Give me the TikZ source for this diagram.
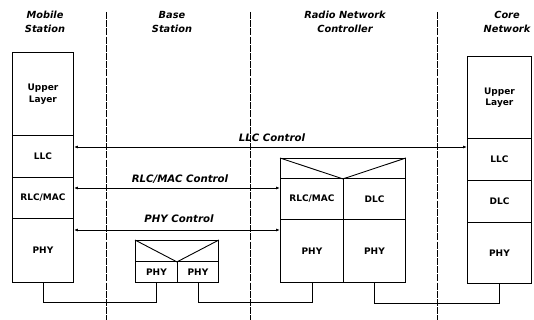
\documentclass[tikz,border=0pt]{standalone}
\usepackage{fontspec}
\setmainfont{DejaVu Sans}
\usetikzlibrary{arrows.meta}
\begin{document}
\begin{tikzpicture}[x=1pt,y=-1pt,
  layer/.style={draw, line width=0.9pt, anchor=north west, inner sep=0pt, font=\bfseries\fontsize{9}{11.5}\selectfont, align=center},
  title/.style={font=\bfseries\itshape\fontsize{9.8}{14}\selectfont, align=center},
  lbl/.style={font=\bfseries\itshape\fontsize{10.2}{12}\selectfont},
  sep/.style={line width=0.6pt, dash pattern=on 7pt off 1.2pt},
  ctl/.style={line width=0.9pt, {Latex[length=4pt,width=3pt]}-{Latex[length=4pt,width=3pt]}},
  wire/.style={line width=0.9pt}]
\useasboundingbox (0,0) rectangle (534,320);
% column separators
\draw[sep] (106,12) -- (106,320);
\draw[sep] (250,12) -- (250,320);
\draw[sep] (437,12) -- (437,320);
% titles
\node[title] (tms) at (45,22) {Mobile\\Station};
\node[title] (tbs) at (172,22) {Base\\Station};
\node[title] (trnc) at (345,22) {Radio Network\\Controller};
\node[title] (tcn) at (507,22) {Core\\Network};
% mobile station stack
\node[layer, minimum width=61pt, minimum height=83pt] (msup) at (12,52) {Upper\\Layer};
\node[layer, minimum width=61pt, minimum height=42pt] (msllc) at (12,135) {LLC};
\node[layer, minimum width=61pt, minimum height=41pt] (msrlc) at (12,177) {RLC/MAC};
\node[layer, minimum width=61pt, minimum height=64pt] (msphy) at (12,218) {PHY};
% core network stack
\node[layer, minimum width=64pt, minimum height=82pt] (cnup) at (467,56) {Upper\\Layer};
\node[layer, minimum width=64pt, minimum height=42pt] (cnllc) at (467,138) {LLC};
\node[layer, minimum width=64pt, minimum height=42pt] (cndlc) at (467,180) {DLC};
\node[layer, minimum width=64pt, minimum height=61pt] (cnphy) at (467,222) {PHY};
% RNC
\node[layer, minimum width=125pt, minimum height=20pt] (rnctop) at (280,158) {};
\draw[line width=0.9pt] (rnctop.north west) -- (rnctop.south) -- (rnctop.north east);
\node[layer, minimum width=63pt, minimum height=41pt] (rncrlc) at (280,178) {RLC/MAC};
\node[layer, minimum width=62pt, minimum height=41pt] (rncdlc) at (343,178) {DLC};
\node[layer, minimum width=63pt, minimum height=63pt] (rncphya) at (280,219) {PHY};
\node[layer, minimum width=62pt, minimum height=63pt] (rncphyb) at (343,219) {PHY};
% base station
\node[layer, minimum width=83pt, minimum height=21pt] (bstop) at (135,240) {};
\draw[line width=0.9pt] (bstop.north west) -- (bstop.south) -- (bstop.north east);
\node[layer, minimum width=42pt, minimum height=21pt] (bsphya) at (135,261) {PHY};
\node[layer, minimum width=41pt, minimum height=21pt] (bsphyb) at (177,261) {PHY};
% control arrows
\coordinate (yllc) at (0,147);
\coordinate (yrlc) at (0,188);
\coordinate (yphy) at (0,230);
\draw[ctl] (msllc.east |- yllc) -- (cnllc.west |- yllc);
\draw[ctl] (msrlc.east |- yrlc) -- (rncrlc.west |- yrlc);
\draw[ctl] (msphy.east |- yphy) -- (rncphya.west |- yphy);
\node[lbl] (lllc) at (272,138) {LLC Control};
\node[lbl] (lrlc) at (180,179) {RLC/MAC Control};
\node[lbl] (lphy) at (179,219) {PHY Control};
% physical links
\draw[wire] (msphy.south) -- ++(0,20) -| (bsphya.south);
\draw[wire] (bsphyb.south) -- ++(0,20) -| (rncphya.south);
\draw[wire] (rncphyb.south) -- ++(0,21) -| (cnphy.south);
\end{tikzpicture}
\end{document}
